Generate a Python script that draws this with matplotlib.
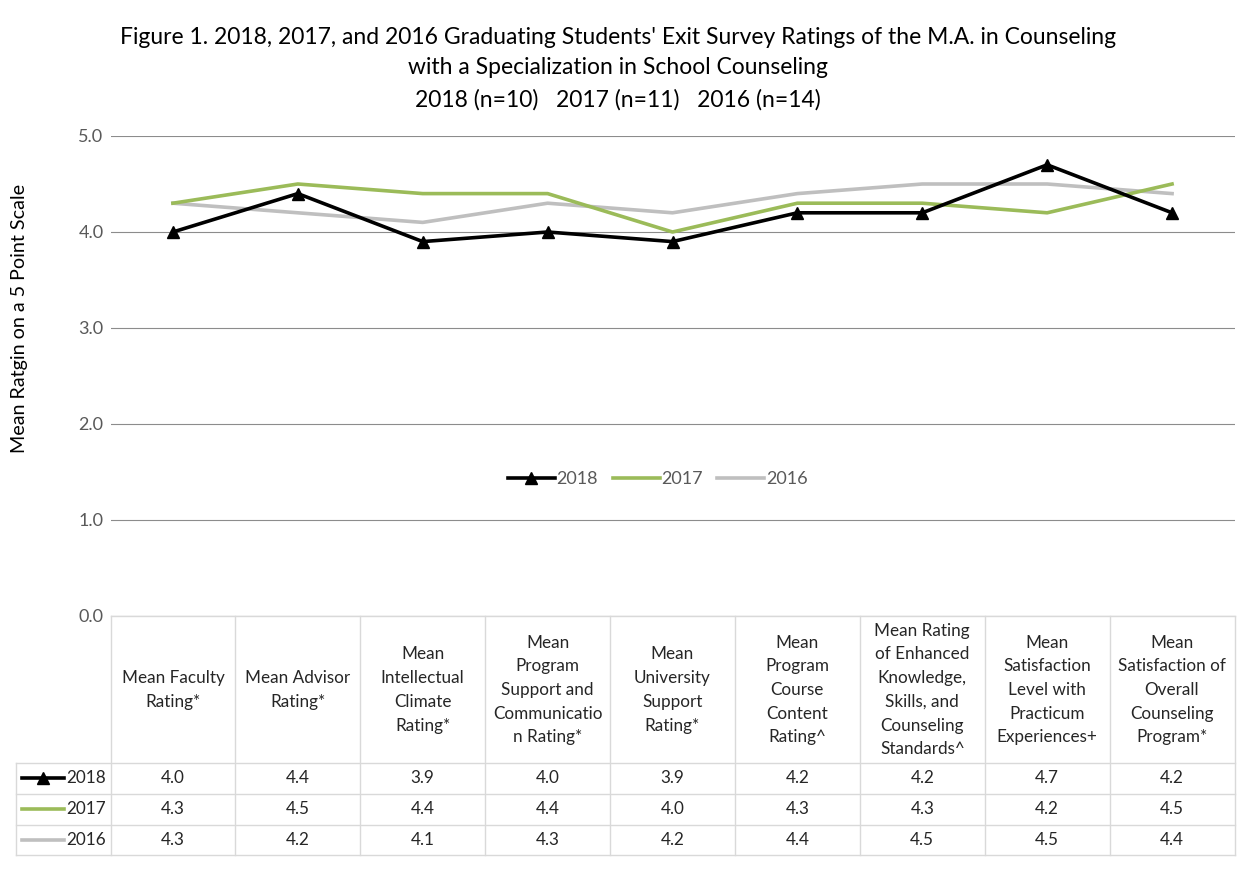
import numpy as np
import matplotlib.pyplot as plt

plt.rcParams['font.family'] = ['Lato', 'DejaVu Sans']

categories = ["Mean Faculty\nRating*",
              "Mean Advisor\nRating*",
              "Mean\nIntellectual\nClimate\nRating*",
              "Mean\nProgram\nSupport and\nCommunicatio\nn Rating*",
              "Mean\nUniversity\nSupport\nRating*",
              "Mean\nProgram\nCourse\nContent\nRating^",
              "Mean Rating\nof Enhanced\nKnowledge,\nSkills, and\nCounseling\nStandards^",
              "Mean\nSatisfaction\nLevel with\nPracticum\nExperiences+",
              "Mean\nSatisfaction of\nOverall\nCounseling\nProgram*"]
y2018 = [4.0, 4.4, 3.9, 4.0, 3.9, 4.2, 4.2, 4.7, 4.2]
y2017 = [4.3, 4.5, 4.4, 4.4, 4.0, 4.3, 4.3, 4.2, 4.5]
y2016 = [4.3, 4.2, 4.1, 4.3, 4.2, 4.4, 4.5, 4.5, 4.4]
series = [("2018", y2018), ("2017", y2017), ("2016", y2016)]

W, H = 1256, 873
fig = plt.figure(figsize=(12.56, 8.73), dpi=100)

left, right = 110.5, 1234.5
top, bottom = 136, 616
ax = fig.add_axes([left / W, 1 - bottom / H, (right - left) / W, (bottom - top) / H])
x = np.arange(len(categories))
ax.plot(x, y2016, color='#BFBFBF', lw=2.6, label='2016', zorder=2)
ax.plot(x, y2017, color='#9BBB59', lw=2.6, label='2017', zorder=3)
ax.plot(x, y2018, color='black', lw=2.6, marker='^', ms=8, label='2018', zorder=4)
ax.set_xlim(-0.5, len(categories) - 0.5)
ax.set_ylim(0, 5)
ax.set_yticks([0, 1, 2, 3, 4, 5])
ax.set_yticklabels(['0.0', '1.0', '2.0', '3.0', '4.0', '5.0'], color='#595959', fontsize=13)
ax.set_xticks([])
ax.tick_params(axis='y', length=0, pad=5)
ax.grid(axis='y', color='#8C8C8C', lw=0.8)
for s in ax.spines.values():
    s.set_visible(False)

# y axis title sits over the chart part, not the table
fig.text(20 / W, 1 - 318 / H, 'Mean Ratgin on a 5 Point Scale', rotation=90,
         ha='center', va='center', fontsize=14.2)

handles, labels = ax.get_legend_handles_labels()
order = [2, 1, 0]
leg = ax.legend([handles[i] for i in order], [labels[i] for i in order], loc='center',
                bbox_to_anchor=(0.487, 0.285), ncol=3, frameon=False, fontsize=13,
                handlelength=2.6, handletextpad=0.1, columnspacing=0.8, numpoints=1)
for t in leg.get_texts():
    t.set_color('#595959')

title_kw = dict(ha='center', va='center', fontsize=16.5)
fig.text(0.492, 1 - 38 / H, "Figure 1. 2018, 2017, and 2016 Graduating Students' Exit Survey Ratings of the M.A. in Counseling", **title_kw)
fig.text(0.492, 1 - 68 / H, "with a Specialization in School Counseling", **title_kw)
fig.text(0.492, 1 - 100 / H, "2018 (n=10)   2017 (n=11)   2016 (n=14)", **title_kw)

# data table drawn in pixel coordinates
tb = fig.add_axes([0, 0, 1, 1])
tb.set_xlim(0, W)
tb.set_ylim(H, 0)
tb.axis('off')
cw = (right - left) / len(categories)
edges = [left + i * cw for i in range(len(categories) + 1)]
rows = [763, 793.5, 824.5, 855]
lc = '#D9D9D9'
tb.plot([left, right], [bottom, bottom], color=lc, lw=1)
for yy in rows:
    tb.plot([16, right], [yy, yy], color=lc, lw=1)
for xe in edges:
    tb.plot([xe, xe], [bottom, rows[-1]], color=lc, lw=1)
tb.plot([16, 16], [rows[0], rows[-1]], color=lc, lw=1)

for i, cat in enumerate(categories):
    cx = (edges[i] + edges[i + 1]) / 2
    tb.text(cx, 690, cat, ha='center', va='center', fontsize=12.3, linespacing=1.59, color='#262626')

colors = {"2018": 'black', "2017": '#9BBB59', "2016": '#BFBFBF'}
for r, (name, vals) in enumerate(series):
    cy = (rows[r] + rows[r + 1]) / 2
    tb.plot([22, 64], [cy, cy], lw=2.6, color=colors[name])
    if name == "2018":
        tb.plot([43], [cy], marker='^', ms=8, color='black')
    tb.text(66, cy, name, ha='left', va='center', fontsize=12.3, color='#262626')
    for i, v in enumerate(vals):
        cx = (edges[i] + edges[i + 1]) / 2
        tb.text(cx, cy, '%.1f' % v, ha='center', va='center', fontsize=12.3, color='#262626')

plt.savefig('out.png', dpi=100)
